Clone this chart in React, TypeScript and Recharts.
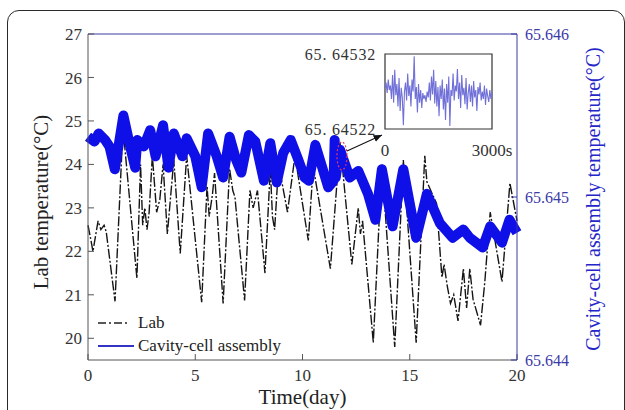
import React from 'react';
import { LineChart, Line, XAxis, YAxis, ReferenceDot, ReferenceArea, Label } from 'recharts';

const SERIF = '"Liberation Serif", "DejaVu Serif", serif';
const BLUE = '#0f0fe8';
const AXIS_BLUE = '#3b3ba8';

// Lab temperature (left axis, °C)
const labDays = [
  0, 0.12, 0.23, 0.47, 0.6, 0.75, 0.85, 1.26, 1.63, 2.28, 2.45, 2.55, 2.65, 2.75, 2.85, 3.0, 3.2, 3.35, 3.5, 3.7,
  4.0, 4.3, 4.6, 5.3, 5.55, 5.65, 5.8, 5.9, 6.3, 6.6, 6.75, 6.85, 7.3, 7.55, 7.7, 7.9, 8.25, 8.5, 8.6, 8.7,
  8.85, 9.0, 9.3, 9.65, 10.27, 10.5, 11.3, 11.75, 12.3, 12.6, 12.7, 12.8, 13.3, 13.7, 14.3, 14.7, 15.3, 15.7, 15.8, 16.25,
  16.5, 16.6, 16.75, 16.9, 17.05, 17.25, 17.5, 17.65, 17.8, 17.95, 18.3, 18.5, 18.75, 19.3, 19.67, 20,
];
const labTemp = [
  22.6, 22.3, 22.0, 22.7, 22.5, 22.6, 22.45, 20.85, 24.85, 21.38, 24.0, 22.6, 23.0, 22.5, 22.9, 24.2, 22.9, 23.2, 24.0, 22.4,
  24.1, 21.95, 24.2, 20.83, 23.5, 22.8, 23.3, 23.8, 20.8, 23.9, 23.4, 23.25, 20.87, 23.4, 23.0, 23.4, 21.5, 23.9, 22.8, 22.5,
  23.7, 23.7, 22.9, 24.2, 22.25, 23.95, 21.6, 24.5, 21.7, 23.0, 22.4, 22.7, 19.9, 24.0, 19.8, 24.1, 19.9, 24.2, 23.6, 23.1,
  21.4, 21.7, 21.2, 20.8, 21.0, 20.4, 21.6, 20.7, 21.6, 20.9, 20.3, 21.3, 22.9, 21.3, 23.57, 22.7,
];

// Cavity-cell assembly temperature (right axis, °C)
const cavityDays = [
  0, 0.3, 0.5, 0.8, 1.0, 1.25, 1.65, 2.0, 2.2, 2.3, 2.6, 2.9, 3.15, 3.5, 3.75, 4.0, 4.4, 4.6, 5.0, 5.3,
  5.6, 6.0, 6.3, 6.6, 6.9, 7.15, 7.5, 7.8, 8.2, 8.5, 8.8, 9.1, 9.45, 9.8, 10.1, 10.3, 10.6, 11.2, 11.45, 11.5,
  11.55, 11.75, 12.2, 12.6, 13.05, 13.4, 13.7, 14.2, 14.7, 15.3, 15.8, 16.4, 17.0, 17.5, 17.8, 18.4, 18.75, 19.3, 19.65, 20,
];
const cavityTemp = [
  65.64537, 65.64534, 65.64539, 65.64535, 65.64531, 65.64517, 65.6455, 65.64529, 65.64518, 65.64535,
  65.64531, 65.64541, 65.64525, 65.64544, 65.64518, 65.64539, 65.64525, 65.64536, 65.64525, 65.64506,
  65.64539, 65.64525, 65.64512, 65.64537, 65.64523, 65.64515, 65.64538, 65.64534, 65.6451, 65.64533,
  65.64509, 65.64527, 65.64535, 65.64523, 65.64512, 65.6451, 65.64532, 65.64506, 65.6451, 65.64535,
  65.64512, 65.64529, 65.64512, 65.64516, 65.64502, 65.64486, 65.64517, 65.64482, 65.64517, 65.64475,
  65.64502, 65.64484, 65.64475, 65.6448, 65.64475, 65.64469, 65.64482, 65.64472, 65.64486, 65.64478,
];

// 3000 s zoom of the cavity temperature
const insetValues = [
  65.645275, 65.645282, 65.645268, 65.645286, 65.645272, 65.645278, 65.64526, 65.645292, 65.645255, 65.645299,
  65.645265, 65.64528, 65.64525, 65.645288, 65.645244, 65.645275, 65.645262, 65.645225, 65.64527, 65.645282,
  65.645258, 65.645294, 65.645264, 65.645278, 65.64525, 65.645286, 65.64527, 65.645317, 65.64526, 65.645276,
  65.645242, 65.64528, 65.645255, 65.645272, 65.645248, 65.645268, 65.64526, 65.645265, 65.645256, 65.64527,
  65.645262, 65.645282, 65.645258, 65.64529, 65.645266, 65.645299, 65.645254, 65.645284, 65.64525, 65.645276,
  65.645237, 65.645278, 65.64526, 65.645286, 65.645246, 65.645274, 65.645232, 65.64528, 65.645255, 65.64529,
  65.645224, 65.645272, 65.645264, 65.645294, 65.645258, 65.645278, 65.64527, 65.6453, 65.64526, 65.645282,
  65.645248, 65.645292, 65.645265, 65.645275, 65.645253, 65.645288, 65.645246, 65.645268, 65.64528, 65.645256,
  65.645278, 65.64525, 65.645284, 65.645262, 65.645272, 65.645244, 65.645276, 65.645266, 65.645282, 65.645258,
  65.64527, 65.64526, 65.645278, 65.645252, 65.645274, 65.645264, 65.645256, 65.645272, 65.64526, 65.645268,
];

const dayTicks = [0, 5, 10, 15, 20];
const labTicks = [20, 21, 22, 23, 24, 25, 26, 27];
const cavityTicks = [65.644, 65.645, 65.646];
const insetTimeTicks = [0, 3000];
const insetTicks = [65.64522, 65.64532];

const labData = labDays.map((day, i) => ({ day, lab: labTemp[i] }));
const cavityData = cavityDays.map((day, i) => ({ day, cavity: cavityTemp[i] }));
const insetData = insetValues.map((v, i) => ({ t: (i * 3000) / (insetValues.length - 1), v }));

function LegendBox() {
  return (
    <div style={{ fontFamily: SERIF, fontSize: 17, color: '#222', lineHeight: '23px' }}>
      <div style={{ display: 'flex', alignItems: 'center' }}>
        <svg width={40} height={10}>
          <line x1={4} y1={5} x2={36} y2={5} stroke="#222" strokeWidth={1.4} strokeDasharray="8 3 2 3" />
        </svg>
        <span style={{ marginLeft: 4 }}>Lab</span>
      </div>
      <div style={{ display: 'flex', alignItems: 'center' }}>
        <svg width={40} height={10}>
          <line x1={4} y1={5} x2={40} y2={5} stroke="#3434c4" strokeWidth={2} />
        </svg>
        <span style={{ marginLeft: 4 }}>Cavity-cell assembly</span>
      </div>
    </div>
  );
}

function Inset() {
  return (
    <LineChart width={230} height={115} margin={{ top: 10, right: 33, bottom: 0, left: 0 }}>
      <XAxis
        type="number"
        dataKey="t"
        domain={[0, 3000]}
        ticks={insetTimeTicks}
        interval={0}
        tickFormatter={(v) => (v === 3000 ? '3000s' : '0')}
        axisLine={false}
        tickLine={false}
        tickMargin={9}
        height={30}
        tick={{ fill: '#333', fontSize: 17, fontFamily: SERIF }}
      />
      <YAxis
        type="number"
        domain={[65.64522, 65.64532]}
        ticks={insetTicks}
        interval={0}
        tickFormatter={(v) => v.toFixed(5).replace('.', '. ')}
        axisLine={false}
        tickLine={false}
        tickMargin={3}
        width={90}
        tick={{ fill: '#333', fontSize: 16, fontFamily: SERIF, letterSpacing: 0.8 }}
      />
      <ReferenceArea x1={0} x2={3000} y1={65.64522} y2={65.64532} fill="#fff" fillOpacity={1} stroke="#333" strokeWidth={1.2} />
      <Line data={insetData} dataKey="v" stroke="#7070d8" strokeWidth={1.1} dot={false} isAnimationActive={false} />
    </LineChart>
  );
}

export default function App() {
  return (
    <div style={{ position: 'absolute', left: 0, top: 0, width: 625, height: 410, overflow: 'hidden', background: '#fff' }}>
      <div
        style={{
          position: 'absolute',
          left: 7,
          top: 10,
          width: 616,
          height: 430,
          border: '1.5px solid #2a2a2a',
          borderRadius: 12,
        }}
      />
      <div style={{ position: 'absolute', left: 0, top: 0 }}>
        <LineChart width={625} height={410} margin={{ top: 4, right: 18, bottom: 8, left: 8 }}>
          <XAxis
            xAxisId="top"
            orientation="top"
            type="number"
            domain={[0, 20]}
            ticks={dayTicks}
            height={30}
            tickSize={-6}
            tickFormatter={() => ''}
            stroke={AXIS_BLUE}
          />
          <XAxis
            type="number"
            dataKey="day"
            domain={[0, 20]}
            ticks={dayTicks}
            interval={0}
            height={42}
            tickSize={-6}
            tickMargin={15}
            stroke="#555"
            tick={{ fill: '#333', fontSize: 17, fontFamily: SERIF }}
          >
            <Label value="Time(day)" position="insideBottom" offset={-2} style={{ fill: '#222', fontSize: 21, fontFamily: SERIF }} />
          </XAxis>
          <YAxis
            yAxisId="left"
            type="number"
            domain={[19.5, 27]}
            ticks={labTicks}
            interval={0}
            width={80}
            tickSize={-6}
            tickMargin={12}
            stroke="#555"
            tick={{ fill: '#333', fontSize: 17, fontFamily: SERIF }}
          >
            <Label
              value="Lab temperature(°C)"
              angle={-90}
              position="center"
              dx={-7}
              dy={5}
              style={{ fill: '#222', fontSize: 21, fontFamily: SERIF, textAnchor: 'middle' }}
            />
          </YAxis>
          <YAxis
            yAxisId="right"
            orientation="right"
            type="number"
            domain={[65.644, 65.646]}
            ticks={cavityTicks}
            interval={0}
            width={90}
            tickSize={-6}
            tickMargin={14}
            stroke={AXIS_BLUE}
            tickFormatter={(v) => v.toFixed(3)}
            tick={{ fill: AXIS_BLUE, fontSize: 16, fontFamily: SERIF }}
          >
            <Label
              value="Cavity-cell assembly temperature(°C)"
              angle={-90}
              position="center"
              dx={31}
              dy={2}
              style={{ fill: '#2626c8', fontSize: 20, fontFamily: SERIF, textAnchor: 'middle' }}
            />
          </YAxis>
          <Line
            yAxisId="left"
            data={labData}
            dataKey="lab"
            name="Lab"
            stroke="#151515"
            strokeWidth={1.4}
            strokeDasharray="10 2 2 2"
            dot={false}
            isAnimationActive={false}
          />
          <Line
            yAxisId="right"
            data={cavityData}
            dataKey="cavity"
            name="Cavity-cell assembly"
            stroke={BLUE}
            strokeWidth={10}
            strokeLinejoin="round"
            dot={false}
            isAnimationActive={false}
          />
          <ReferenceDot
            yAxisId="right"
            x={11.84}
            y={65.645252}
            shape={(p: any) => (
              <ellipse cx={p.cx} cy={p.cy} rx={5} ry={14} fill="none" stroke="#e03a5a" strokeWidth={1.2} strokeDasharray="2 2" />
            )}
          />
        </LineChart>
      </div>
      <div style={{ position: 'absolute', left: 94, top: 311 }}>
        <LegendBox />
      </div>
      <div style={{ position: 'absolute', left: 295, top: 44 }}>
        <Inset />
      </div>
      <svg width={625} height={410} style={{ position: 'absolute', left: 0, top: 0, pointerEvents: 'none' }}>
        <defs>
          <marker id="arr" markerWidth={8} markerHeight={8} refX={7} refY={4} orient="auto">
            <path d="M0,1 L7,4 L0,7 Z" fill="#111" />
          </marker>
        </defs>
        <line x1={347} y1={151} x2={382} y2={135} stroke="#111" strokeWidth={1.2} markerEnd="url(#arr)" />
      </svg>
    </div>
  );
}
